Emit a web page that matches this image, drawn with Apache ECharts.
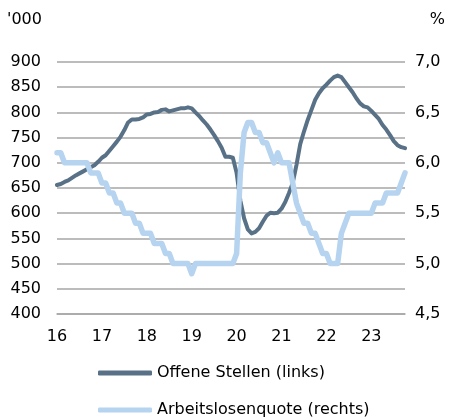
<!DOCTYPE html>
<html>
<head>
<meta charset="utf-8">
<script src="https://cdn.jsdelivr.net/npm/echarts@6/dist/echarts.min.js"></script>
<style>
html,body{margin:0;padding:0;background:#fff;}
#chart{width:449px;height:419px;}
</style>
</head>
<body>
<div id="chart"></div>
<script>
// Year tick labels (first month of each year is labelled)
const yearLabels = ['16','17','18','19','20','21','22','23'];
const monthsPerYear = 12;
const pointCount = 94; // monthly observations

// Offene Stellen (links), in thousands
const offeneStellen = [
  656,658,662,665,670,675,679,683,687,691,695,702,
  710,715,724,733,742,752,765,780,786,786,787,790,
  796,797,800,801,805,806,802,804,806,808,808,810,
  808,800,793,784,776,766,755,743,730,712,712,710,
  680,625,590,568,560,563,570,583,595,601,600,601,
  609,622,640,660,696,737,762,785,805,825,838,848,
  855,863,870,873,870,860,850,840,828,818,812,810,
  803,795,787,775,766,755,743,735,731,729
];

// Arbeitslosenquote (rechts), in %
const arbeitslosenquote = [
  6.1,6.1,6.0,6.0,6.0,6.0,6.0,6.0,6.0,5.9,5.9,5.9,
  5.8,5.8,5.7,5.7,5.6,5.6,5.5,5.5,5.5,5.4,5.4,5.3,
  5.3,5.3,5.2,5.2,5.2,5.1,5.1,5.0,5.0,5.0,5.0,5.0,
  4.9,5.0,5.0,5.0,5.0,5.0,5.0,5.0,5.0,5.0,5.0,5.0,
  5.1,5.9,6.3,6.4,6.4,6.3,6.3,6.2,6.2,6.1,6.0,6.1,
  6.0,6.0,6.0,5.8,5.6,5.5,5.4,5.4,5.3,5.3,5.2,5.1,
  5.1,5.0,5.0,5.0,5.3,5.4,5.5,5.5,5.5,5.5,5.5,5.5,
  5.5,5.6,5.6,5.6,5.7,5.7,5.7,5.7,5.8,5.9
];

const seriesNames = ['Offene Stellen (links)', 'Arbeitslosenquote (rechts)'];

// Category axis: one entry per month, labelled by year
const categories = [];
for (let i = 0; i < pointCount; i++) {
  categories.push(yearLabels[Math.floor(i / monthsPerYear)] + '-' + ((i % monthsPerYear) + 1));
}

const FONT = 'DejaVu Sans';
const legendBase = {
  orient: 'horizontal',
  left: 98,
  itemWidth: 54,
  itemHeight: 5,
  icon: 'roundRect',
  padding: 0,
  textStyle: {fontFamily: FONT, fontSize: 16, color: '#000'}
};
const chart = echarts.init(document.getElementById('chart'), null, {renderer: 'canvas'});
chart.setOption({
  animation: false,
  backgroundColor: '#ffffff',
  textStyle: {fontFamily: FONT},
  grid: {left: 57, right: 44, top: 62, bottom: 105, containLabel: false},
  graphic: [
    {type: 'text', left: 7, top: 12, style: {text: "'000", fontFamily: FONT, fontSize: 16, fill: '#000'}},
    {type: 'text', right: 4, top: 12, style: {text: '%', fontFamily: FONT, fontSize: 16, fill: '#000'}}
  ],
  legend: [
    Object.assign({}, legendBase, {top: 365, data: [seriesNames[0]]}),
    Object.assign({}, legendBase, {top: 402, data: [seriesNames[1]]})
  ],
  xAxis: {
    type: 'category',
    data: categories,
    boundaryGap: false,
    axisLine: {show: true, lineStyle: {color: '#a6a6a6', width: 1.5}},
    axisTick: {show: false},
    splitLine: {show: false},
    axisLabel: {
      interval: function (index) { return index % monthsPerYear === 0; },
      formatter: function (value) { return value.split('-')[0]; },
      fontFamily: FONT, fontSize: 16, color: '#000', margin: 15
    }
  },
  yAxis: [
    {
      type: 'value', position: 'left', min: 400, max: 900, interval: 50,
      axisLine: {show: false}, axisTick: {show: false},
      splitLine: {show: true, lineStyle: {color: '#a6a6a6', width: 1.5}},
      axisLabel: {fontFamily: FONT, fontSize: 16, color: '#000', margin: 16}
    },
    {
      type: 'value', position: 'right', min: 4.5, max: 7.0, interval: 0.5,
      axisLine: {show: false}, axisTick: {show: false},
      splitLine: {show: false},
      axisLabel: {
        fontFamily: FONT, fontSize: 16, color: '#000', margin: 10,
        formatter: function (v) { return v.toFixed(1).replace('.', ','); }
      }
    }
  ],
  series: [
    {
      name: seriesNames[0], type: 'line', yAxisIndex: 0, data: offeneStellen,
      showSymbol: false, symbol: 'none',
      lineStyle: {color: '#587187', width: 4, cap: 'round', join: 'round'},
      itemStyle: {color: '#587187'}
    },
    {
      name: seriesNames[1], type: 'line', yAxisIndex: 1, data: arbeitslosenquote,
      showSymbol: false, symbol: 'none',
      lineStyle: {color: '#b6d4ef', width: 5.5, cap: 'round', join: 'round'},
      itemStyle: {color: '#b6d4ef'}
    }
  ]
});
</script>
</body>
</html>
